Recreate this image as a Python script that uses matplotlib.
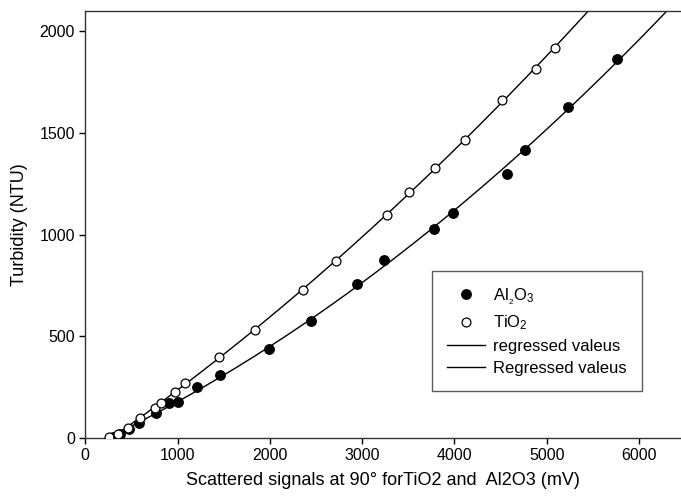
import numpy as np
import matplotlib
matplotlib.use("Agg")
import matplotlib.pyplot as plt
from matplotlib.lines import Line2D

plt.rcParams['font.family'] = ['Liberation Sans', 'DejaVu Sans']
plt.rcParams['mathtext.fontset'] = 'custom'
plt.rcParams['mathtext.rm'] = 'Liberation Sans'
plt.rcParams['mathtext.it'] = 'Liberation Sans'
plt.rcParams['mathtext.default'] = 'regular'

# TiO2 data (open circles)
tio2_x = [260, 360, 460, 590, 760, 820, 975, 1080, 1455, 1845, 2365, 2714,
          3266, 3512, 3790, 4115, 4520, 4881, 5090]
tio2_y = [5, 20, 50, 100, 150, 172, 228, 270, 396, 533, 728, 872,
          1098, 1210, 1327, 1468, 1664, 1815, 1920]

# Al2O3 data (filled circles)
al_x = [300, 380, 470, 585, 765, 905, 1000, 1210, 1460, 1990, 2450, 2940,
        3240, 3780, 3990, 4574, 4765, 5227, 5758]
al_y = [5, 20, 45, 72, 121, 170, 178, 253, 312, 436, 573, 757,
        876, 1029, 1105, 1299, 1418, 1630, 1864]

x_ticks = [0, 1000, 2000, 3000, 4000, 5000, 6000]
y_ticks = [0, 500, 1000, 1500, 2000]

fig = plt.figure(figsize=(6.81, 5.0), dpi=100)
ax = fig.add_axes([85.2 / 681, 62 / 500, 1 - 85.2 / 681, (438 - 11) / 500])

# regression curves (quadratic fits)
xs = np.linspace(250, 6500, 400)
p_t = np.polyfit(tio2_x, tio2_y, 2)
p_a = np.polyfit(al_x, al_y, 2)
ax.plot(xs, np.polyval(p_t, xs), color='black', lw=1.0, zorder=2)
ax.plot(xs, np.polyval(p_a, xs), color='black', lw=1.0, zorder=2)

ax.plot(al_x, al_y, 'o', color='black', ms=6.8, mec='black', zorder=3)
ax.plot(tio2_x, tio2_y, 'o', mfc='white', mec='black', mew=0.9, ms=6.4, zorder=3)

ax.set_xlim(0, 6455)
ax.set_ylim(0, 2100)
ax.set_xticks(x_ticks)
ax.set_yticks(y_ticks)
ax.tick_params(direction='out', length=4, width=1, labelsize=11.5, colors='black')
for s in ['left', 'bottom', 'top']:
    ax.spines[s].set_color('#333333')
    ax.spines[s].set_linewidth(1.0)
ax.spines['right'].set_visible(False)

ax.set_xlabel('Scattered signals at 90° forTiO2 and  Al2O3 (mV)', fontsize=13, labelpad=6)
ax.set_ylabel('Turbidity (NTU)', fontsize=13, labelpad=8)

handles = [
    Line2D([], [], marker='o', ls='none', color='black', ms=6.8),
    Line2D([], [], marker='o', ls='none', mfc='white', mec='black', mew=0.9, ms=6.4),
    Line2D([], [], color='black', lw=1.0),
    Line2D([], [], color='black', lw=1.0),
]
labels = [r'Al$_{_2}$O$_3$', r'TiO$_2$', 'regressed valeus', 'Regressed valeus']
leg = ax.legend(handles, labels, loc='upper left',
                bbox_to_anchor=((431.7 - 85.2) / (681 - 85.2), (438 - 271) / 427),
                frameon=True, fancybox=False, fontsize=12, handlelength=2.3,
                handletextpad=0.5, borderpad=0.9, labelspacing=0.42,
                borderaxespad=0)
leg.get_frame().set_edgecolor('#333333')
leg.get_frame().set_linewidth(1.0)

fig.savefig('out.png', dpi=100)
